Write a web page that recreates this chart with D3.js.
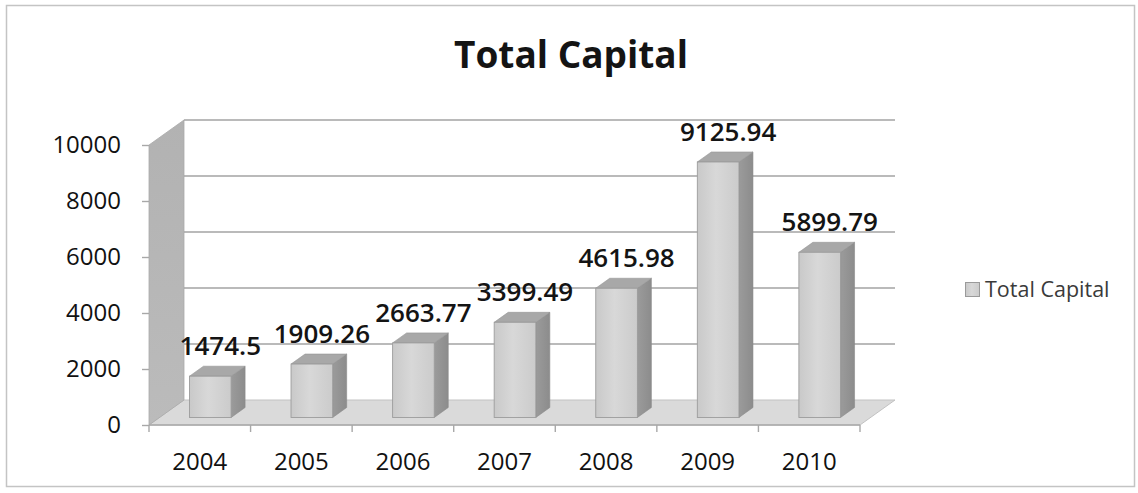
<!DOCTYPE html>
<html>
<head>
<meta charset="utf-8">
<script src="https://cdn.jsdelivr.net/npm/d3@7"></script>
<style>
  html, body { margin: 0; padding: 0; background: #ffffff; }
  svg { display: block; }
  text { font-family: "Open Sans", "Noto Sans", sans-serif; }
</style>
</head>
<body>
<svg id="chart" width="1138" height="493"></svg>
<script>
// Total Capital by year
const years = ["2004", "2005", "2006", "2007", "2008", "2009", "2010"];
const totalCapital = [1474.5, 1909.26, 2663.77, 3399.49, 4615.98, 9125.94, 5899.79];
const valueLabels = ["1474.5", "1909.26", "2663.77", "3399.49", "4615.98", "9125.94", "5899.79"];
const yTicks = [0, 2000, 4000, 6000, 8000, 10000];
const seriesName = "Total Capital";

const svg = d3.select("#chart");
const W = 1138, H = 493;

// oblique depth of the 3-D box (back plane = front plane + depth)
const DX = 35, DY = -25;
const F0 = 0.3, F1 = 0.7;   // bar front / back position within the depth

const x = d3.scaleBand().domain(years).range([149, 860]).padding(0);
const y = d3.scaleLinear().domain([0, 10000]).range([425, 145]);
const bw = x.bandwidth() * 0.41;

const defs = svg.append("defs");
const gFront = defs.append("linearGradient").attr("id", "barFront")
  .attr("x1", 0).attr("x2", 1).attr("y1", 0).attr("y2", 0);
gFront.append("stop").attr("offset", "0%").attr("stop-color", "#c9c9c9");
gFront.append("stop").attr("offset", "45%").attr("stop-color", "#d8d8d8");
gFront.append("stop").attr("offset", "100%").attr("stop-color", "#cbcbcb");
const gSide = defs.append("linearGradient").attr("id", "barSide")
  .attr("x1", 0).attr("x2", 1).attr("y1", 0).attr("y2", 0);
gSide.append("stop").attr("offset", "0%").attr("stop-color", "#9b9b9b");
gSide.append("stop").attr("offset", "100%").attr("stop-color", "#8c8c8c");
const gWall = defs.append("linearGradient").attr("id", "wall")
  .attr("x1", 0).attr("x2", 0).attr("y1", 0).attr("y2", 1);
gWall.append("stop").attr("offset", "0%").attr("stop-color", "#b2b2b2");
gWall.append("stop").attr("offset", "100%").attr("stop-color", "#bbbbbb");

// background and frame
svg.append("rect").attr("width", W).attr("height", H).attr("fill", "#ffffff");
svg.append("rect").attr("x", 6.5).attr("y", 5.5).attr("width", 1128).attr("height", 481)
  .attr("fill", "none").attr("stroke", "#c4c4c4").attr("stroke-width", 1.5);

// title
svg.append("text").attr("x", 571).attr("y", 68).attr("text-anchor", "middle")
  .attr("font-size", 37).attr("font-weight", 700).attr("fill", "#141414")
  .text(seriesName);

const [x0, x1] = x.range();
const poly = pts => pts.map(p => p.join(",")).join(" ");

// floor
svg.append("polygon")
  .attr("points", poly([[x0, y(0)], [x1, y(0)], [x1 + DX, y(0) + DY], [x0 + DX, y(0) + DY]]))
  .attr("fill", "#dadada").attr("stroke", "#c2c2c2").attr("stroke-width", 1);

// left side wall
svg.append("polygon")
  .attr("points", poly([[x0, y(10000)], [x0 + DX, y(10000) + DY], [x0 + DX, y(0) + DY], [x0, y(0)]]))
  .attr("fill", "url(#wall)").attr("stroke", "#a9a9a9").attr("stroke-width", 0.8);

// gridlines on the back wall
svg.append("g").selectAll("line").data(yTicks.filter(d => d > 0)).join("line")
  .attr("x1", x0 + DX).attr("x2", x1 + DX)
  .attr("y1", d => y(d) + DY).attr("y2", d => y(d) + DY)
  .attr("stroke", "#a3a3a3").attr("stroke-width", 1.4);

// front floor edge and category tick marks
svg.append("line").attr("x1", x0).attr("x2", x1).attr("y1", y(0)).attr("y2", y(0))
  .attr("stroke", "#a8a8a8").attr("stroke-width", 1.4);
const bounds = years.map(d => x(d)).concat([x1]);
svg.append("g").selectAll("line").data(bounds).join("line")
  .attr("x1", d => d).attr("x2", d => d)
  .attr("y1", y(0)).attr("y2", y(0) + 7)
  .attr("stroke", "#a8a8a8").attr("stroke-width", 1.4);

// value axis
const yAxis = svg.append("g").attr("transform", `translate(${x0},0)`)
  .call(d3.axisLeft(y).tickValues(yTicks).tickSize(7).tickPadding(21).tickFormat(d3.format("d")));
yAxis.select(".domain").remove();
yAxis.selectAll(".tick line").attr("stroke", "#a8a8a8").attr("stroke-width", 1.4);
yAxis.selectAll(".tick text").attr("font-size", 24).attr("fill", "#111111")
  .style("font-family", "'Open Sans', sans-serif");

// category labels
svg.append("g").selectAll("text").data(years).join("text")
  .attr("x", d => x(d) + x.bandwidth() / 2)
  .attr("y", 470)
  .attr("text-anchor", "middle").attr("font-size", 24).attr("fill", "#111111")
  .text(d => d);

// 3-D bars
const bars = years.map((d, i) => {
  const cx = x(d) + x.bandwidth() / 2 + F0 * DX;
  const by = y(0) + F0 * DY;
  const ty = y(totalCapital[i]) + F0 * DY;
  return { year: d, v: totalCapital[i], lbl: valueLabels[i], l: cx - bw / 2, r: cx + bw / 2, by, ty };
});
const ddx = (F1 - F0) * DX, ddy = (F1 - F0) * DY;
const gb = svg.append("g").selectAll("g").data(bars).join("g");
gb.append("polygon")
  .attr("points", b => poly([[b.r, b.ty], [b.r + ddx, b.ty + ddy], [b.r + ddx, b.by + ddy], [b.r, b.by]]))
  .attr("fill", "url(#barSide)").attr("stroke", "#8a8a8a").attr("stroke-width", 0.6);
gb.append("polygon")
  .attr("points", b => poly([[b.l, b.ty], [b.r, b.ty], [b.r + ddx, b.ty + ddy], [b.l + ddx, b.ty + ddy]]))
  .attr("fill", "#a8a8a8").attr("stroke", "#959595").attr("stroke-width", 0.6);
gb.append("rect")
  .attr("x", b => b.l).attr("y", b => b.ty)
  .attr("width", bw).attr("height", b => b.by - b.ty)
  .attr("fill", "url(#barFront)").attr("stroke", "#9c9c9c").attr("stroke-width", 0.9);

// value labels
gb.append("text")
  .attr("x", b => (b.l + b.r) / 2 + 10)
  .attr("y", b => b.ty - 21)
  .attr("text-anchor", "middle").attr("font-size", 26).attr("font-weight", 600).attr("fill", "#141414")
  .text(b => b.lbl);

// legend
const lg = svg.append("g");
lg.append("rect").attr("x", 965.5).attr("y", 282.5).attr("width", 14).attr("height", 14)
  .attr("fill", "url(#barFront)").attr("stroke", "#9a9a9a").attr("stroke-width", 1);
lg.append("text").attr("x", 985).attr("y", 297).attr("font-size", 21.5).attr("fill", "#3a3a3a")
  .text(seriesName);
</script>
</body>
</html>
